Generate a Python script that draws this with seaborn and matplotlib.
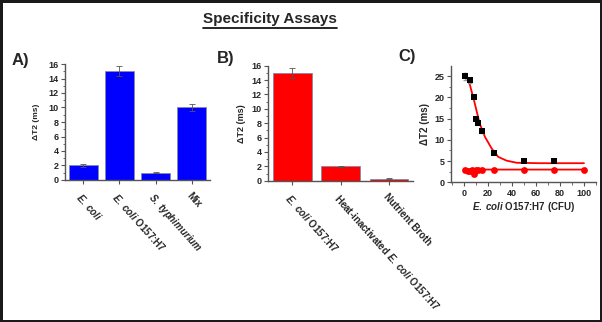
import matplotlib
matplotlib.use("Agg")
import matplotlib.pyplot as plt
import seaborn as sns
import pandas as pd
from matplotlib.ticker import MultipleLocator

sns.set_style("ticks")
plt.rcParams['font.family'] = ['Liberation Sans', 'DejaVu Sans']
plt.rcParams['mathtext.fontset'] = 'custom'
plt.rcParams['mathtext.rm'] = 'Liberation Sans:bold'
plt.rcParams['mathtext.it'] = 'Liberation Sans:italic:bold'
plt.rcParams['mathtext.bf'] = 'Liberation Sans:bold'

# ---------------- data ----------------
a_labels = [r"$\mathit{E.\;coli}$", r"$\mathit{E.\;coli}$ O157:H7",
            r"$\mathit{S.\;typhimurium}$", "Mix"]
a_values = [2.0, 15.0, 1.0, 10.0]
a_errors = [0.15, 0.7, 0.08, 0.5]

b_labels = [r"$\mathit{E.\;coli}$ O157:H7",
            r"Heat-inactivated $\mathit{E.\;coli}$ O157:H7",
            "Nutrient Broth"]
b_values = [15.0, 2.0, 0.3]
b_errors = [0.7, 0.1, 0.08]

c_x_target = [1, 5, 8, 10, 12, 15, 25, 50, 75]
c_y_target = [25, 24, 20, 15, 14, 12, 7, 5, 5]
c_err_target = [0.8, 0.5, 0.3, 0.3, 0.3, 0.3, 0.3, 0.2, 0.2]

c_x_ctrl = [1, 3, 5, 7, 8, 10, 12, 15, 25, 50, 75, 100]
c_y_ctrl = [3.0, 2.7, 2.6, 2.8, 2.0, 3.0, 3.0, 3.0, 3.0, 3.0, 3.0, 3.0]

fit_x = [1, 5, 9, 13, 17.5, 23, 28.5, 35.5, 44, 63, 100]
fit_y = [25.6, 22.9, 18.6, 13.9, 10.7, 8.0, 6.0, 5.1, 4.6, 4.5, 4.5]

W, H = 602, 322
fig = plt.figure(figsize=(W / 100, H / 100), dpi=100)
fig.patch.set_edgecolor('#1a1a1a')
fig.patch.set_linewidth(2.5)

def px_axes(left, top, right, bottom):
    return fig.add_axes([left / W, 1 - bottom / H, (right - left) / W, (bottom - top) / H])

tick_fs = 6.5
spine_col = '#555555'

def style(ax):
    sns.despine(ax=ax)
    for s in ['left', 'bottom']:
        ax.spines[s].set_color(spine_col)
        ax.spines[s].set_linewidth(1.0)
    ax.tick_params(which='major', length=3, width=0.8, color=spine_col, pad=1.5)
    ax.tick_params(which='minor', length=1.8, width=0.6, color=spine_col)
    for t in ax.get_yticklabels():
        t.set_fontweight('bold')
        t.set_fontsize(tick_fs)

def bar_panel(ax, labels, values, errors, color):
    df = pd.DataFrame({'cat': list(range(len(labels))), 'val': values})
    sns.barplot(data=df, x='cat', y='val', color=color, ax=ax, width=0.8,
                edgecolor='#8888aa', linewidth=0.6, saturation=1, errorbar=None)
    ax.errorbar(range(len(values)), values, yerr=errors, fmt='none',
                ecolor='#555555', elinewidth=0.6, capsize=2, capthick=0.6)
    ax.set_xlim(-0.5, len(values) - 0.5)
    ax.set_ylim(0, 16)
    ax.yaxis.set_major_locator(MultipleLocator(2))
    ax.yaxis.set_minor_locator(MultipleLocator(1))
    ax.set_xlabel('')
    ax.set_xticks(range(len(labels)))
    ax.set_xticklabels(labels, rotation=-48, ha='left', va='top', rotation_mode='anchor',
                       fontsize=7, fontweight='bold')
    style(ax)
    ax.tick_params(axis='x', pad=5)

# Panel A
axA = px_axes(65, 64, 210, 180)
bar_panel(axA, a_labels, a_values, a_errors, '#0000ff')
axA.set_ylabel('ΔT2 (ms)', fontsize=6, fontweight='bold', labelpad=6)

# Panel B
axB = px_axes(268, 65.7, 413, 180.7)
bar_panel(axB, b_labels, b_values, b_errors, '#ff0000')
axB.set_ylabel('ΔT2 (ms)', fontsize=6.5, fontweight='bold', labelpad=4)

# Panel C
axC = px_axes(451, 66, 596, 182.3)
sns.lineplot(x=fit_x, y=fit_y, color='#ff0000', linewidth=1.3, ax=axC)
sns.lineplot(x=c_x_ctrl, y=c_y_ctrl, color='#ff0000', linewidth=1.3, ax=axC)
axC.errorbar(c_x_target, c_y_target, yerr=c_err_target, fmt='none', ecolor='#999999',
             elinewidth=0.6, capsize=1.5, zorder=3)
sns.scatterplot(x=c_x_target, y=c_y_target, marker='s', color='black', s=20,
                edgecolor='black', linewidth=0, ax=axC, zorder=4)
sns.scatterplot(x=c_x_ctrl, y=c_y_ctrl, marker='o', color='#ff0000', s=24,
                edgecolor='#ff0000', linewidth=0, ax=axC, zorder=4)
axC.set_xlim(-10.8, 110)
axC.set_ylim(0, 27.4)
axC.xaxis.set_major_locator(MultipleLocator(20))
axC.xaxis.set_minor_locator(MultipleLocator(10))
axC.yaxis.set_major_locator(MultipleLocator(5))
axC.yaxis.set_minor_locator(MultipleLocator(2.5))
style(axC)
for t in axC.get_xticklabels():
    t.set_fontweight('bold')
    t.set_fontsize(tick_fs)
axC.set_xlabel(r"$\mathit{E.\;coli}$ O157:H7 (CFU)", fontsize=7, fontweight='bold', labelpad=2)
axC.set_ylabel('ΔT2 (ms)', fontsize=7, fontweight='bold', labelpad=3)

# Titles and panel labels
fig.text(270 / W, 1 - 19 / H, 'Specificity Assays', ha='center', va='center',
         fontsize=11, fontweight='bold')
fig.add_artist(plt.Line2D([203 / W, 337 / W], [1 - 27.5 / H, 1 - 27.5 / H],
                          color='black', linewidth=1.2))
fig.text(12 / W, 1 - 60 / H, 'A)', ha='left', va='center', fontsize=12, fontweight='bold')
fig.text(217 / W, 1 - 58 / H, 'B)', ha='left', va='center', fontsize=12, fontweight='bold')
fig.text(398 / W, 1 - 56 / H, 'C)', ha='left', va='center', fontsize=12, fontweight='bold')

fig.savefig('out.png', dpi=100, edgecolor=fig.get_edgecolor())
